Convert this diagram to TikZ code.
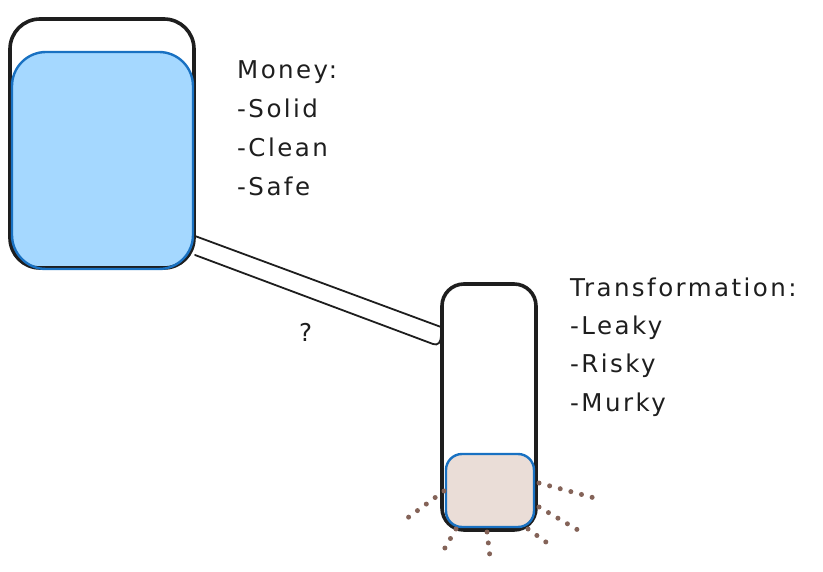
\documentclass[tikz,border=0pt]{standalone}
\usepackage{fontspec}
\setmainfont{DejaVu Sans}[LetterSpace=10]
\definecolor{ink}{HTML}{1E1E1E}
\definecolor{bluefill}{HTML}{A5D8FF}
\definecolor{bluestroke}{HTML}{1971C2}
\definecolor{mudfill}{HTML}{EADDD7}
\definecolor{dotcol}{HTML}{846358}
\tikzset{
  container/.style={draw=ink, line width=3.6pt, rounded corners=#1},
  liquid/.style={draw=bluestroke, line width=2.4pt, rounded corners=#1},
  pipeline/.style={draw=ink, line width=1.8pt, line cap=round},
  drip/.style={draw=dotcol, line width=5pt, line cap=round, dash pattern=on 0pt off 11pt},
  label/.style={anchor=base west, inner sep=0pt, font=\fontsize{24.5}{28}\selectfont, text=ink},
}
\begin{document}
\begin{tikzpicture}[x=1pt,y=-1pt]
\useasboundingbox (0,0) rectangle (823,572);
% left container
\fill[bluefill] [rounded corners=34pt] (12,52) rectangle (193,269);
\draw[container=30pt] (10,19) rectangle (194,268);
\draw[liquid=34pt] (12,52) rectangle (193,269);
% pipe
\coordinate (pT1) at (195,236);
\coordinate (pT2) at (441,327);
\coordinate (pB1) at (195,255);
\coordinate (pB2) at (433,344);
\draw[pipeline] (pT1) -- (pT2);
\draw[pipeline] (pB1) -- (pB2) .. controls (438,346) and (441,342) .. (441,336);
% right container
\fill[mudfill] [rounded corners=16pt] (446,454) rectangle (534,527);
\draw[container=22pt] (442,284) rectangle (536,530);
\draw[liquid=16pt] (446,454) rectangle (534,527);
% drips
\coordinate (d1a) at (444,491); \coordinate (d1b) at (402,522);
\coordinate (d2a) at (456,529); \coordinate (d2b) at (442,553);
\coordinate (d3a) at (487,532); \coordinate (d3b) at (490,557);
\coordinate (d4a) at (528,529); \coordinate (d4b) at (550,545);
\coordinate (d5a) at (539,507); \coordinate (d5b) at (583,533);
\coordinate (d6a) at (539,483); \coordinate (d6b) at (602,500);
\foreach \i in {1,...,6} \draw[drip] (d\i a) -- (d\i b);
% texts
\node[label] (m0) at (237,79) {Money:};
\node[label] (m1) at (237,118) {-Solid};
\node[label] (m2) at (237,157) {-Clean};
\node[label] (m3) at (237,196) {-Safe};
\node[label] (q) at (299,342) {?};
\node[label] (t0) at (570,297) {Transformation:};
\node[label] (t1) at (570,335) {-Leaky};
\node[label] (t2) at (570,373) {-Risky};
\node[label] (t3) at (570,412) {-Murky};
\end{tikzpicture}
\end{document}
